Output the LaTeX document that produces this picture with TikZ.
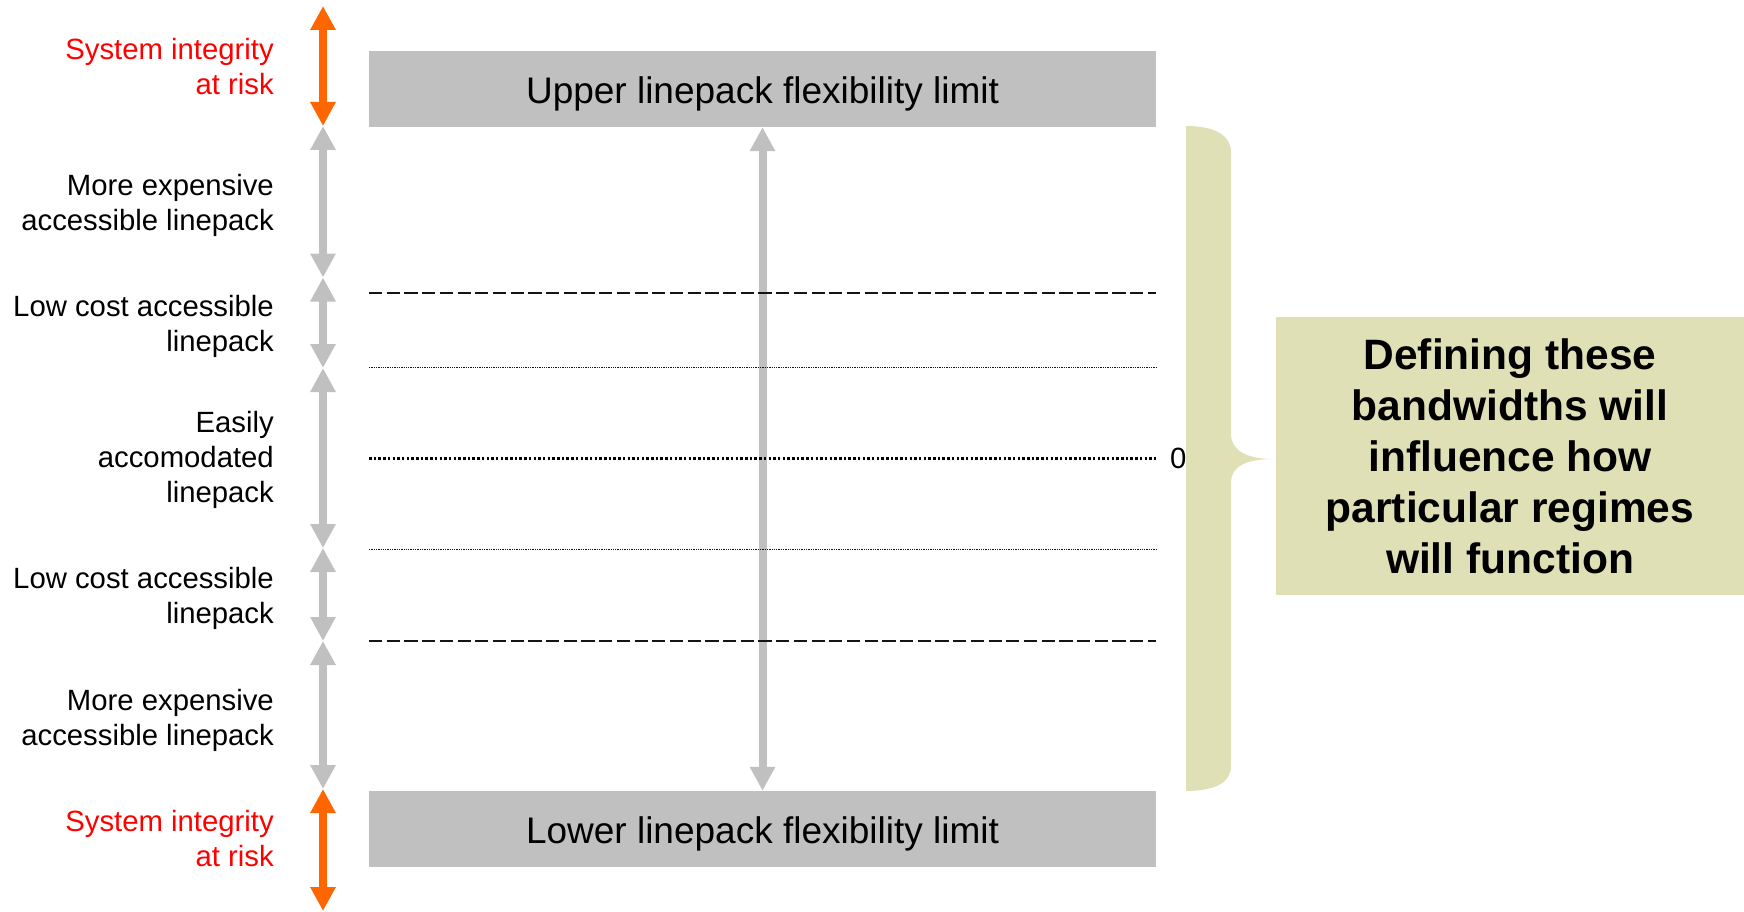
\documentclass[tikz,border=0pt]{standalone}
\usepackage{fontspec}
\setmainfont{Liberation Sans}
\usetikzlibrary{arrows.meta}
\definecolor{boxgray}{RGB}{192,192,192}
\definecolor{riskorange}{RGB}{255,102,0}
\definecolor{riskred}{RGB}{255,0,0}
\definecolor{olive}{RGB}{223,224,182}
\definecolor{linedark}{RGB}{20,20,20}
\tikzset{
  limitbox/.style={fill=boxgray, draw=none, minimum width=787pt, minimum height=76pt, inner sep=0pt,
    text height=28.2pt, text depth=0pt, font=\fontsize{37}{44}\selectfont},
  sidelabel/.style={anchor=east, align=right, inner sep=0pt, font=\fontsize{29.3}{35}\selectfont},
  risklabel/.style={sidelabel, text=riskred},
  grayarrow/.style={draw=boxgray, line width=8pt, {Triangle[length=24pt,width=24pt]}-{Triangle[length=24pt,width=24pt]}},
  orangearrow/.style={draw=riskorange, line width=8pt, {Triangle[length=24pt,width=24pt]}-{Triangle[length=24pt,width=24pt]}},
  dashline/.style={draw=linedark, line width=2pt, dash pattern=on 13.2pt off 4.5pt},
  finedot/.style={draw=linedark, line width=1pt, dash pattern=on 1.3pt off 1pt},
  zeroline/.style={draw=black, line width=2.3pt, dash pattern=on 2.5pt off 2.2pt},
  notebox/.style={fill=olive, draw=none, minimum width=468pt, minimum height=278pt, inner sep=0pt,
    align=center, font=\bfseries\fontsize{42.5}{51}\selectfont}
}
\begin{document}
\begin{tikzpicture}[x=1pt,y=-1pt]
\useasboundingbox (0,0) rectangle (1744,912);
% limit boxes
\node[limitbox] (upper) at (762.5,89) {Upper linepack flexibility limit};
\node[limitbox] (lower) at (762.5,829) {Lower linepack flexibility limit};
% central arrow
\draw[grayarrow] (upper.south) -- (lower.north);
% horizontal reference lines
\coordinate (d1l) at (369,292.5); \coordinate (d1r) at (1156,292.5);
\coordinate (f1l) at (369,367.5); \coordinate (f1r) at (1156,367.5);
\coordinate (zl) at (369,458.5); \coordinate (zr) at (1156,458.5);
\coordinate (f2l) at (369,549); \coordinate (f2r) at (1156,549);
\coordinate (d2l) at (369,640.5); \coordinate (d2r) at (1156,640.5);
\draw[dashline] (d1l) -- (d1r);
\draw[finedot] (f1l) -- (f1r);
\draw[zeroline] (zl) -- (zr);
\draw[finedot] (f2l) -- (f2r);
\draw[dashline] (d2l) -- (d2r);
\node[anchor=west, inner sep=0pt, font=\fontsize{29.3}{35}\selectfont] (zero) at (1170,458.5) {0};
% left arrows
\coordinate (a0) at (323,6);
\coordinate (a1) at (323,126);
\coordinate (a2) at (323,277.5);
\coordinate (a3) at (323,368);
\coordinate (a4) at (323,548);
\coordinate (a5) at (323,641);
\coordinate (a6) at (323,789);
\coordinate (a7) at (323,911);
\draw[orangearrow] (a0) -- (a1);
\draw[grayarrow] (a1) -- (a2);
\draw[grayarrow] (a2) -- (a3);
\draw[grayarrow] (a3) -- (a4);
\draw[grayarrow] (a4) -- (a5);
\draw[grayarrow] (a5) -- (a6);
\draw[orangearrow] (a6) -- (a7);
% left labels
\node[risklabel] (l1) at (274,67) {System integrity\\at risk};
\node[sidelabel] (l2) at (274,205.5) {More expensive\\accessible linepack};
\node[sidelabel] (l3) at (274,326) {Low cost accessible\\linepack};
\node[sidelabel] (l4) at (274,460) {Easily\\accomodated\\linepack};
\node[sidelabel] (l5) at (274,598.5) {Low cost accessible\\linepack};
\node[sidelabel] (l6) at (274,720) {More expensive\\accessible linepack};
\node[risklabel] (l7) at (274,838.5) {System integrity\\at risk};
% brace
\fill[olive] (1186,126) .. controls (1216,126) and (1231,136) .. (1231,152)
  -- (1231,434) .. controls (1231,450) and (1246,459) .. (1273,459)
  .. controls (1246,459) and (1231,467) .. (1231,482)
  -- (1231,766) .. controls (1231,782) and (1216,791) .. (1186,791) -- cycle;
% note box
\node[notebox] (note) at (1510,456) {Defining these\\bandwidths will\\influence how\\particular regimes\\will function};
\end{tikzpicture}
\end{document}
